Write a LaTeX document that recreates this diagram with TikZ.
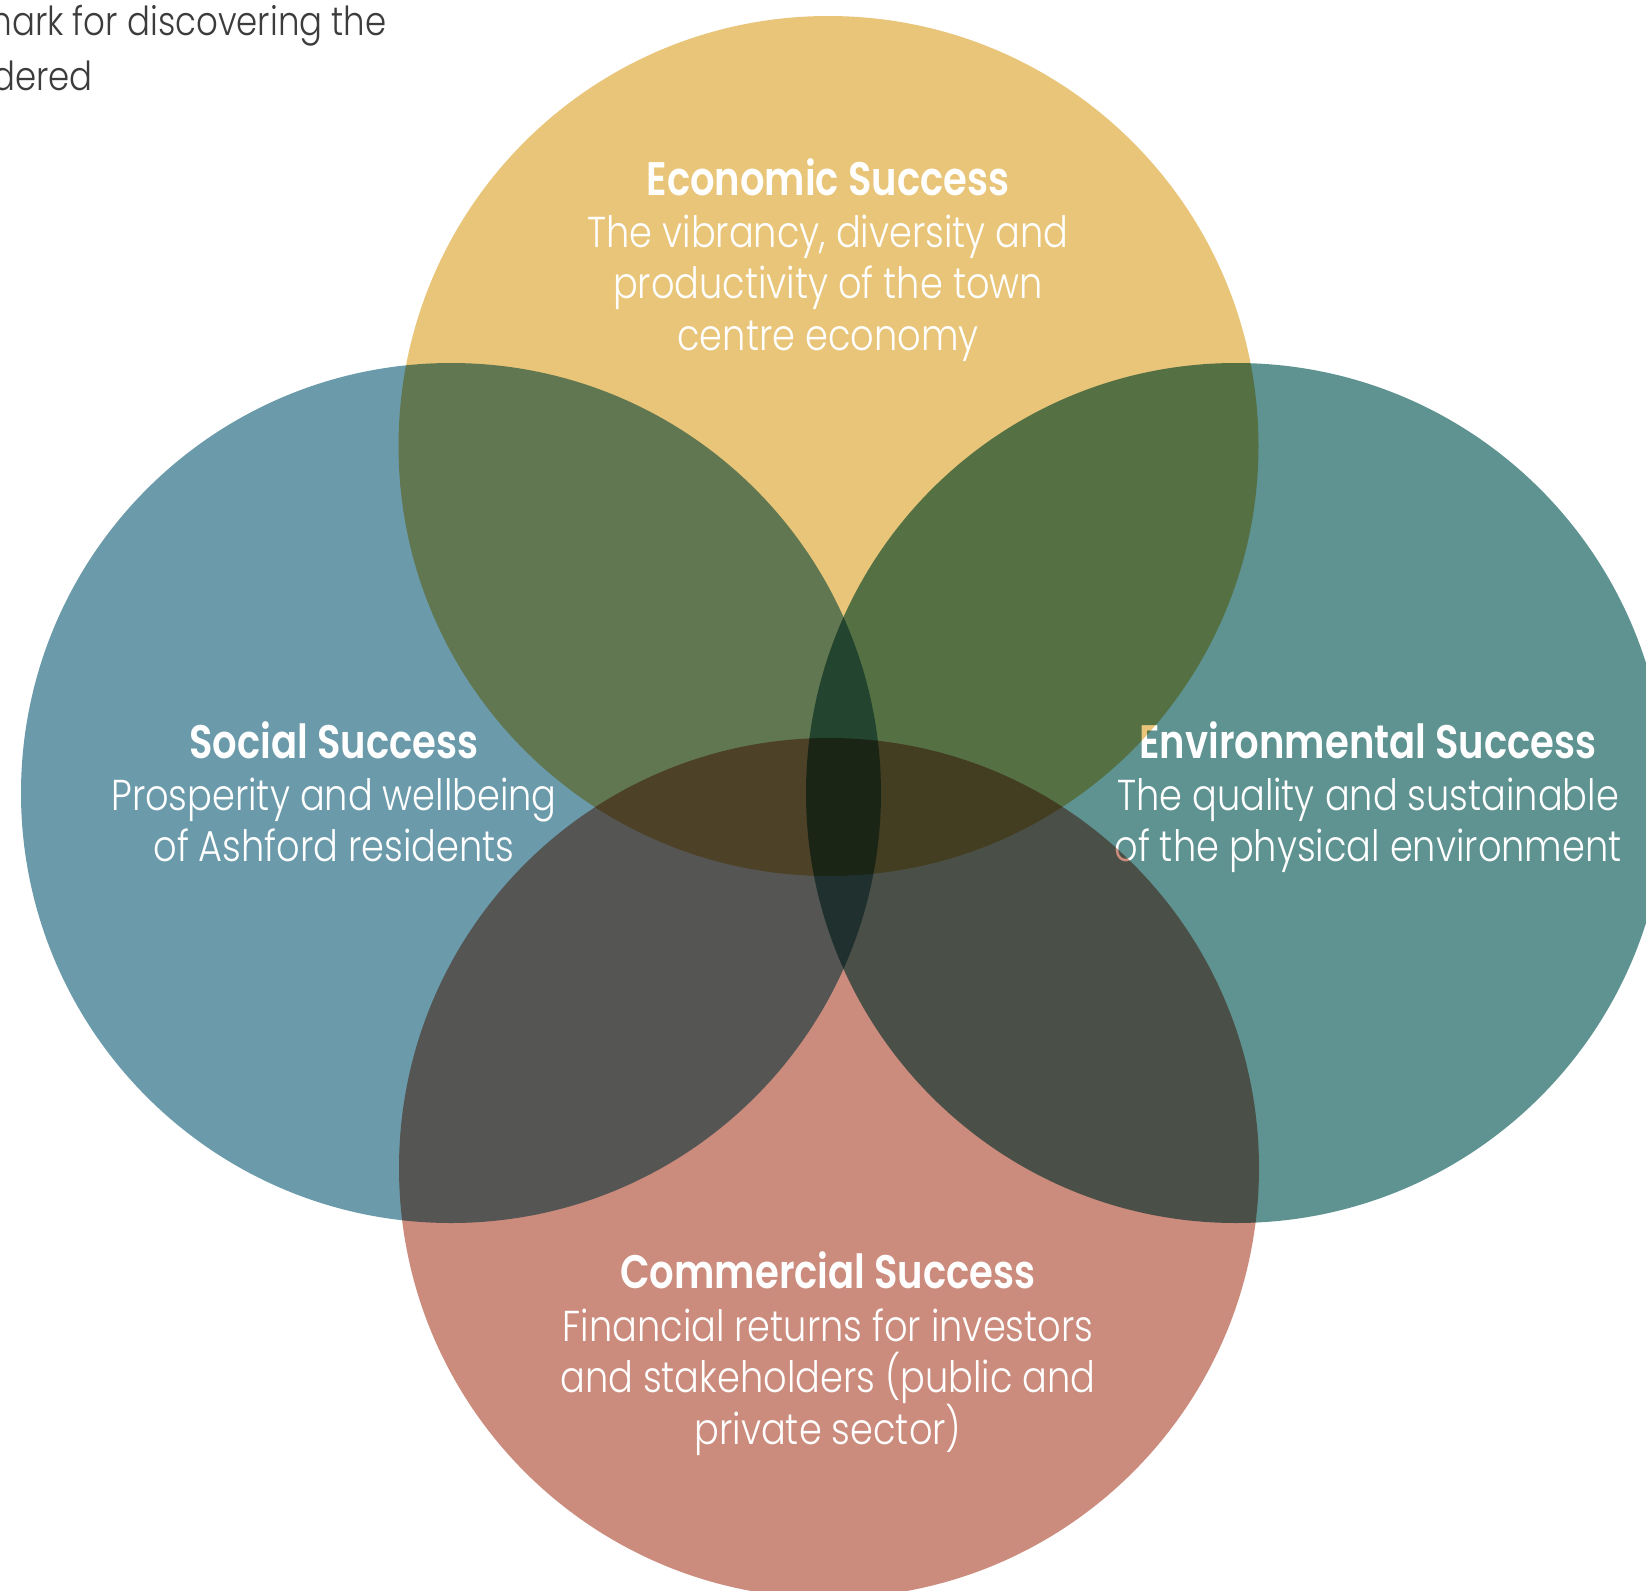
\documentclass[tikz,border=0pt]{standalone}
\usepackage{fontspec}
\setmainfont{Poppins}
\newfontfamily\bodyfam{Poppins Light}[FakeStretch=0.85]
\newfontfamily\headfam{Poppins SemiBold}[FakeStretch=0.82]
\definecolor{econ}{HTML}{E8C579}
\definecolor{social}{HTML}{6B9BAB}
\definecolor{envir}{HTML}{5E9391}
\definecolor{comm}{HTML}{CB8C7D}
\definecolor{pagetext}{HTML}{3C3C3C}
\begin{document}
\begin{tikzpicture}[x=0.5pt,y=-0.5pt,
  disc/.style={radius=215pt},
  head/.style={anchor=base,inner sep=0pt,text=white,font=\headfam\fontsize{23.5}{23.5}\selectfont},
  body/.style={anchor=base,inner sep=0pt,text=white,font=\bodyfam\fontsize{21.6}{21.6}\selectfont},
  note/.style={inner sep=0pt,text=pagetext,font=\bodyfam\fontsize{20}{20}\selectfont}]
\useasboundingbox (0,0) rectangle (1646,1591);
\fill[white] (0,0) rectangle (1646,1591);
\begin{scope}
\clip (0,0) rectangle (1646,1591);
% circle centres
\coordinate (cT) at (828.5,446);
\coordinate (cL) at (451,793);
\coordinate (cR) at (1236,793);
\coordinate (cB) at (829,1168);

% running text of the page, cut at the edge
\node[note,anchor=base east] (pg1) at (387,35) {mark for discovering the};
\node[note,anchor=base west] (pg2) at (-8,90) {dered};

% side circles
\begin{scope}[blend mode=multiply]
\fill[social] (cL) circle[disc];
\fill[envir] (cR) circle[disc];
\end{scope}

% social
\node[head] (sH) at (334,758) {Social Success};
\node[body] (s1) at (334,810) {Prosperity and wellbeing};
\node[body] (s2) at (334,861) {of Ashford residents};
% environmental
\node[head] (eH) at (1368,758) {Environmental Success};
\node[body] (e1) at (1368,810) {The quality and sustainable};
\node[body] (e2) at (1368,861) {of the physical environment};

% top and bottom circles
\begin{scope}[blend mode=multiply]
\fill[econ] (cT) circle[disc];
\fill[comm] (cB) circle[disc];
\end{scope}

% economic
\node[head] (tH) at (828,195) {Economic Success};
\node[body] (t1) at (828,247) {The vibrancy, diversity and};
\node[body] (t2) at (828,298) {productivity of the town};
\node[body] (t3) at (828,350) {centre economy};
% commercial
\node[head] (bH) at (828,1288) {Commercial Success};
\node[body] (b1) at (828,1341) {Financial returns for investors};
\node[body] (b2) at (828,1392) {and stakeholders (public and};
\node[body] (b3) at (828,1444) {private sector)};
\end{scope}
\end{tikzpicture}
\end{document}
